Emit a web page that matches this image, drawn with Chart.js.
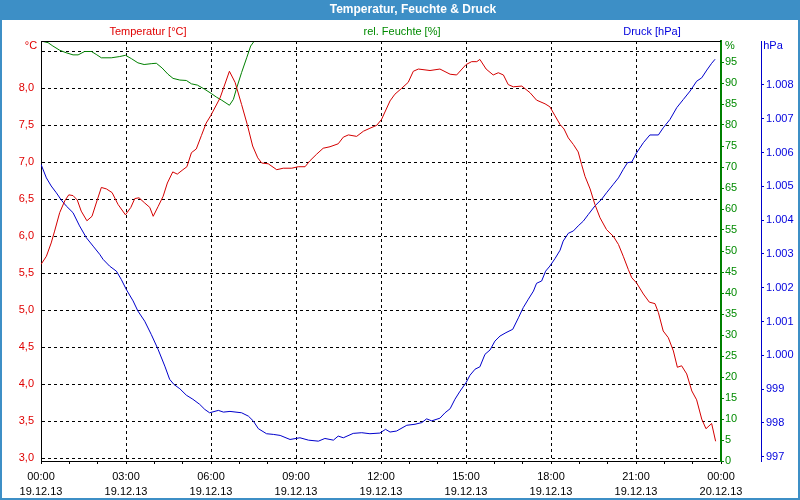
<!DOCTYPE html>
<html><head><meta charset="utf-8">
<script src="https://cdn.jsdelivr.net/npm/chart.js@4.4.0/dist/chart.umd.min.js"></script>
<style>html,body{margin:0;padding:0;background:#fff;overflow:hidden}#wrap{width:800px;height:500px;position:relative}</style>
</head><body><div id="wrap"><canvas id="c" width="800" height="500"></canvas></div>
<script>
const titleText = 'Temperatur, Feuchte & Druck';
const seriesLabels = ['Temperatur [°C]', 'rel. Feuchte [%]', 'Druck [hPa]'];
const unitLabels = ['°C', '%', 'hPa'];

const xTickHours = [0, 3, 6, 9, 12, 15, 18, 21, 24];
const xTickTimes = ['00:00', '03:00', '06:00', '09:00', '12:00', '15:00', '18:00', '21:00', '00:00'];
const xTickDates = ['19.12.13', '19.12.13', '19.12.13', '19.12.13', '19.12.13', '19.12.13', '19.12.13', '19.12.13', '20.12.13'];
const tempTicks = [3, 3.5, 4, 4.5, 5, 5.5, 6, 6.5, 7, 7.5, 8, 8.5];
const humTicks = [0, 5, 10, 15, 20, 25, 30, 35, 40, 45, 50, 55, 60, 65, 70, 75, 80, 85, 90, 95];
const pressTicks = [997, 998, 999, 1000, 1001, 1002, 1003, 1004, 1005, 1006, 1007, 1008];

const tempHours = [0, 0.19, 0.36, 0.48, 0.66, 0.84, 0.98, 1.13, 1.28, 1.42, 1.62, 1.80, 1.95, 2.13, 2.31, 2.51, 2.72, 2.98, 3.17, 3.31, 3.46, 3.66, 3.84, 3.96, 4.13, 4.31, 4.46, 4.65, 4.81, 5.01, 5.15, 5.31, 5.48, 5.66, 5.83, 5.99, 6.32, 6.65, 6.85, 7.08, 7.28, 7.47, 7.65, 7.79, 8.02, 8.32, 8.55, 8.85, 9.08, 9.32, 9.49, 9.73, 9.96, 10.2, 10.49, 10.67, 10.85, 11.14, 11.38, 11.61, 11.85, 12.02, 12.32, 12.49, 12.73, 12.96, 13.14, 13.32, 13.73, 14.08, 14.44, 14.67, 15.0, 15.2, 15.38, 15.49, 15.71, 15.96, 16.14, 16.32, 16.49, 16.67, 16.97, 17.26, 17.49, 17.79, 17.96, 18.14, 18.32, 18.46, 18.61, 18.79, 18.96, 19.08, 19.2, 19.38, 19.55, 19.73, 19.96, 20.2, 20.38, 20.55, 20.73, 20.85, 21.02, 21.26, 21.47, 21.67, 21.79, 21.96, 22.14, 22.32, 22.46, 22.61, 22.79, 22.97, 23.14, 23.32, 23.47, 23.67, 23.81];
const tempValues = [5.62, 5.73, 5.91, 6.07, 6.32, 6.48, 6.56, 6.55, 6.49, 6.34, 6.21, 6.27, 6.45, 6.66, 6.64, 6.59, 6.43, 6.29, 6.39, 6.51, 6.52, 6.45, 6.39, 6.27, 6.40, 6.54, 6.72, 6.87, 6.84, 6.90, 6.94, 7.13, 7.18, 7.36, 7.53, 7.63, 7.87, 8.23, 8.08, 7.78, 7.51, 7.22, 7.06, 6.99, 6.98, 6.90, 6.92, 6.92, 6.94, 6.94, 7.02, 7.11, 7.19, 7.21, 7.25, 7.34, 7.37, 7.35, 7.42, 7.46, 7.50, 7.58, 7.83, 7.92, 8.00, 8.08, 8.23, 8.26, 8.24, 8.26, 8.19, 8.18, 8.32, 8.36, 8.36, 8.39, 8.26, 8.18, 8.21, 8.18, 8.05, 8.02, 8.03, 7.94, 7.84, 7.79, 7.75, 7.63, 7.51, 7.45, 7.33, 7.24, 7.14, 6.97, 6.81, 6.64, 6.43, 6.25, 6.09, 6.00, 5.89, 5.73, 5.55, 5.44, 5.37, 5.22, 5.11, 5.09, 4.97, 4.72, 4.63, 4.45, 4.23, 4.25, 4.14, 3.91, 3.79, 3.53, 3.40, 3.47, 3.23];

const humHours = [0, 0.25, 0.42, 0.66, 0.89, 1.13, 1.31, 1.54, 1.78, 1.95, 2.13, 2.48, 2.78, 2.98, 3.19, 3.42, 3.64, 3.89, 4.07, 4.27, 4.48, 4.66, 4.9, 5.13, 5.31, 5.52, 5.78, 6.01, 6.2, 6.38, 6.65, 6.79, 6.91, 7.08, 7.26, 7.40, 7.55];
const humValues = [100, 99.6, 98.8, 97.8, 97.2, 96.7, 96.7, 97.5, 97.5, 96.8, 96.0, 96.0, 96.3, 96.6, 95.8, 94.8, 94.4, 94.6, 94.7, 93.6, 92.1, 91.1, 90.7, 90.6, 89.8, 89.5, 88.5, 87.5, 86.6, 85.9, 84.7, 86.1, 88.9, 92.5, 96.0, 98.8, 100.2];

const pressHours = [0, 0.19, 0.36, 0.54, 0.72, 0.89, 1.13, 1.36, 1.60, 1.84, 2.07, 2.19, 2.42, 2.66, 2.83, 3.01, 3.25, 3.42, 3.66, 3.89, 4.13, 4.37, 4.54, 4.69, 4.90, 5.13, 5.36, 5.60, 5.78, 5.95, 6.26, 6.44, 6.67, 7.08, 7.32, 7.49, 7.67, 7.96, 8.2, 8.44, 8.79, 9.14, 9.44, 9.79, 10.02, 10.32, 10.49, 10.67, 11.02, 11.32, 11.61, 11.96, 12.16, 12.32, 12.55, 12.91, 13.2, 13.44, 13.61, 13.79, 14.08, 14.26, 14.44, 14.61, 14.79, 15.0, 15.14, 15.32, 15.49, 15.67, 15.85, 16.02, 16.2, 16.41, 16.65, 16.85, 17.02, 17.2, 17.38, 17.49, 17.67, 17.81, 17.96, 18.14, 18.32, 18.43, 18.61, 18.79, 18.96, 19.14, 19.32, 19.55, 19.79, 19.96, 20.2, 20.38, 20.55, 20.7, 20.85, 21.02, 21.26, 21.49, 21.79, 21.96, 22.2, 22.44, 22.67, 22.91, 23.14, 23.32, 23.5, 23.67, 23.79];
const pressValues = [1005.65, 1005.25, 1005.01, 1004.81, 1004.59, 1004.42, 1004.22, 1003.83, 1003.48, 1003.23, 1002.99, 1002.84, 1002.64, 1002.49, 1002.25, 1001.95, 1001.61, 1001.31, 1001.01, 1000.62, 1000.18, 999.68, 999.29, 999.14, 999.01, 998.82, 998.70, 998.55, 998.40, 998.30, 998.37, 998.32, 998.34, 998.30, 998.20, 998.06, 997.83, 997.68, 997.66, 997.63, 997.51, 997.56, 997.49, 997.46, 997.54, 997.49, 997.61, 997.56, 997.69, 997.71, 997.68, 997.70, 997.81, 997.73, 997.76, 997.93, 997.96, 998.01, 998.12, 998.06, 998.14, 998.30, 998.42, 998.70, 998.94, 999.19, 999.41, 999.59, 999.66, 1000.03, 1000.16, 1000.42, 1000.57, 1000.67, 1000.77, 1001.11, 1001.41, 1001.66, 1001.90, 1002.13, 1002.20, 1002.49, 1002.64, 1002.86, 1003.11, 1003.38, 1003.61, 1003.68, 1003.83, 1003.97, 1004.17, 1004.42, 1004.62, 1004.81, 1005.06, 1005.25, 1005.50, 1005.70, 1005.72, 1005.99, 1006.29, 1006.52, 1006.52, 1006.73, 1006.98, 1007.33, 1007.57, 1007.82, 1008.11, 1008.21, 1008.44, 1008.64, 1008.76];

const FONT = '"Liberation Sans", Arial, sans-serif';
const RED = '#d40000', RED_TXT = '#e00000';
const GREEN = '#008000', GREEN_TXT = '#008a00';
const BLUE = '#0000cc', BLUE_TXT = '#0000dd';
const FRAME = '#3d8fc6';

const zip = (xs, ys) => xs.map((x, i) => ({x: x, y: ys[i]}));
const hourTicks = Array.from({length: 25}, (_, i) => i);

const framePlugin = {
  id: 'frame',
  beforeDraw(chart) {
    const c = chart.ctx;
    c.save();
    c.fillStyle = '#fff';
    c.fillRect(0, 0, 800, 500);
    c.fillStyle = FRAME;
    c.fillRect(0, 0, 800, 20);
    c.fillRect(0, 0, 2, 500);
    c.fillRect(798, 0, 2, 500);
    c.fillRect(0, 498, 800, 2);
    c.restore();
  },
  afterDraw(chart) {
    const c = chart.ctx, a = chart.chartArea;
    c.save();
    c.textAlign = 'center';
    c.textBaseline = 'middle';
    c.fillStyle = '#fff';
    c.font = 'bold 12px ' + FONT;
    c.fillText(titleText, 413, 10);
    c.font = '11px ' + FONT;
    c.fillStyle = RED_TXT; c.fillText(seriesLabels[0], 148, 32);
    c.fillStyle = GREEN_TXT; c.fillText(seriesLabels[1], 402, 32);
    c.fillStyle = BLUE_TXT; c.fillText(seriesLabels[2], 652, 32);
    c.fillStyle = RED_TXT; c.fillText(unitLabels[0], 31, 46);
    c.fillStyle = GREEN_TXT; c.fillText(unitLabels[1], 730, 46);
    c.fillStyle = BLUE_TXT; c.fillText(unitLabels[2], 773, 46);
    c.strokeStyle = '#000';
    c.lineWidth = 1;
    c.beginPath();
    c.moveTo(a.left, Math.round(a.top) + 0.5);
    c.lineTo(a.right, Math.round(a.top) + 0.5);
    c.stroke();
    c.restore();
  }
};

new Chart(document.getElementById('c'), {
  type: 'line',
  data: {
    datasets: [
      {label: seriesLabels[0], data: zip(tempHours, tempValues), yAxisID: 'yT', borderColor: RED, borderWidth: 1, pointRadius: 0, fill: false, tension: 0},
      {label: seriesLabels[1], data: zip(humHours, humValues), yAxisID: 'yH', borderColor: GREEN, borderWidth: 1, pointRadius: 0, fill: false, tension: 0},
      {label: seriesLabels[2], data: zip(pressHours, pressValues), yAxisID: 'yP', borderColor: BLUE, borderWidth: 1, pointRadius: 0, fill: false, tension: 0}
    ]
  },
  options: {
    responsive: false,
    animation: false,
    devicePixelRatio: 1,
    layout: {padding: {top: 41, left: 2, right: 2, bottom: 2}},
    plugins: {legend: {display: false}, tooltip: {enabled: false}, title: {display: false}},
    scales: {
      x: {
        type: 'linear', min: 0, max: 24, position: 'bottom',
        afterBuildTicks: s => { s.ticks = hourTicks.map(v => ({value: v})); },
        afterFit: s => { s.height = 37; },
        ticks: {
          autoSkip: false, maxRotation: 0, minRotation: 0, padding: 5, color: '#000',
          font: {family: FONT, size: 11, lineHeight: 1.38},
          callback: v => { const i = xTickHours.indexOf(v); return i >= 0 ? [xTickTimes[i], xTickDates[i]] : ''; }
        },
        grid: {
          color: ctx => (ctx.tick && ctx.tick.value % 3 === 0 && ctx.tick.value > 0 && ctx.tick.value < 24) ? '#000' : 'rgba(0,0,0,0)',
          tickColor: '#000', tickLength: 3, lineWidth: 1, drawOnChartArea: true
        },
        border: {display: true, color: '#000', width: 1, dash: [3, 3]}
      },
      yT: {
        type: 'linear', position: 'left', min: 2.9635, max: 8.639,
        afterBuildTicks: s => { s.ticks = tempTicks.map(v => ({value: v})); },
        afterFit: s => { s.width = 39; },
        ticks: {
          color: RED_TXT, padding: 7, font: {family: FONT, size: 11},
          callback: v => v === 8.5 ? '' : v.toFixed(1).replace('.', ',')
        },
        grid: {color: '#000', drawTicks: false, lineWidth: 1},
        border: {display: true, color: '#000', width: 1, dash: [3, 3]}
      },
      yH: {
        type: 'linear', position: 'right', weight: 1, min: 0, max: 100,
        afterBuildTicks: s => { s.ticks = humTicks.map(v => ({value: v})); },
        afterFit: s => { s.width = 40; },
        ticks: {color: GREEN_TXT, padding: 1, font: {family: FONT, size: 11}, callback: v => String(v)},
        grid: {drawOnChartArea: false, color: GREEN, tickColor: GREEN, tickLength: 3},
        border: {display: true, color: GREEN, width: 2}
      },
      yP: {
        type: 'linear', position: 'right', weight: 2, min: 996.873, max: 1009.30,
        afterBuildTicks: s => { s.ticks = pressTicks.map(v => ({value: v})); },
        afterFit: s => { s.width = 37; },
        ticks: {
          color: BLUE_TXT, padding: 2, font: {family: FONT, size: 11},
          callback: v => v >= 1000 ? '1.' + String(Math.round(v) - 1000).padStart(3, '0') : String(v)
        },
        grid: {drawOnChartArea: false, color: BLUE, tickColor: BLUE, tickLength: 3},
        border: {display: true, color: BLUE, width: 1}
      }
    }
  },
  plugins: [framePlugin]
});
</script>
</body></html>
